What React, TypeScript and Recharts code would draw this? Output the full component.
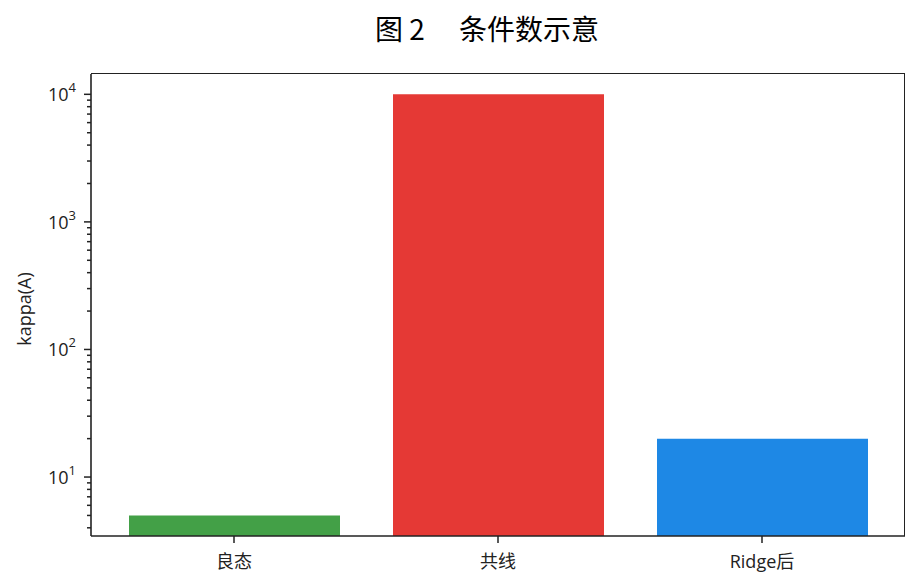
import React from "react";
import { BarChart, Bar, XAxis, YAxis, Cell } from "recharts";

const categories = ["良态", "共线", "Ridge后"];
const kappaValues = [5, 10000, 20];
const barColors = ["#43a047", "#e53935", "#1e88e5"];
const majorTicks = [10, 100, 1000, 10000];
const minorTicks = [
  4, 5, 6, 7, 8, 9,
  20, 30, 40, 50, 60, 70, 80, 90,
  200, 300, 400, 500, 600, 700, 800, 900,
  2000, 3000, 4000, 5000, 6000, 7000, 8000, 9000,
];
const yDomain = [3.45, 14430];

const data = categories.map((name, i) => ({ name, kappa: kappaValues[i] }));
const allTicks = [...minorTicks, ...majorTicks].sort((a, b) => a - b);

const INK = "#222";
const FONT = "'Open Sans', 'Noto Sans CJK SC', sans-serif";

function YTick(props: any) {
  const { x, y, payload } = props;
  const v = payload.value;
  const exp = Math.round(Math.log10(v));
  const major = majorTicks.includes(v);
  return (
    <g>
      <line x1={x} x2={x - (major ? 7 : 4)} y1={y} y2={y} stroke={INK} strokeWidth={1.5} />
      {major ? (
        <text x={x - 15} y={y} dy={7} textAnchor="end" fontSize={18} fill={INK} fontFamily={FONT}>
          10
          <tspan dy={-9} fontSize={13}>
            {exp}
          </tspan>
        </text>
      ) : null}
    </g>
  );
}

function XTick(props: any) {
  const { x, y, payload } = props;
  return (
    <text x={x} y={y + 16} dominantBaseline="central" textAnchor="middle" fontSize={18} fill={INK} fontFamily={FONT}>
      {payload.value}
    </text>
  );
}

export default function App() {
  return (
    <div style={{ position: "absolute", left: 0, top: 0, width: 920, height: 586, background: "#fff" }}>
      <div
        style={{
          position: "absolute",
          left: 487,
          top: 28,
          transform: "translate(-50%, -50%)",
          fontFamily: "'Noto Sans CJK SC', sans-serif",
          fontSize: 28,
          fontWeight: 400,
          color: "#000",
          whiteSpace: "pre",
        }}
      >
        {"图 2　 条件数示意"}
      </div>
      <BarChart
        width={920}
        height={586}
        data={data}
        margin={{ top: 74, right: 15, bottom: 20, left: 31 }}
        barSize={211}
      >
        <XAxis
          dataKey="name"
          type="category"
          padding={{ left: 11, right: 11 }}
          height={30}
          tickSize={7}
          tickMargin={2}
          stroke={INK}
          axisLine={{ stroke: INK, strokeWidth: 1.6 }}
          tickLine={{ stroke: INK, strokeWidth: 1.5 }}
          tick={<XTick />}
          interval={0}
        />
        <YAxis
          type="number"
          scale="log"
          domain={yDomain}
          allowDataOverflow
          ticks={allTicks}
          interval={0}
          width={60}
          tickSize={0}
          tickMargin={0}
          tickLine={false}
          axisLine={{ stroke: INK, strokeWidth: 1.6 }}
          tick={<YTick />}
          label={{
            content: () => (
              <text
                transform="translate(31,309) rotate(-90)"
                textAnchor="middle"
                fontSize={18}
                fill={INK}
                fontFamily={FONT}
              >
                kappa(A)
              </text>
            ),
          }}
        />
        <Bar dataKey="kappa" isAnimationActive={false}>
          {data.map((d, i) => (
            <Cell key={d.name} fill={barColors[i]} />
          ))}
        </Bar>
      </BarChart>
      {/* top and right spines of the plot frame */}
      <div
        style={{
          position: "absolute",
          left: 91,
          top: 73,
          width: 814,
          height: 463,
          borderTop: `1.6px solid ${INK}`,
          borderRight: `1.6px solid ${INK}`,
          pointerEvents: "none",
          boxSizing: "border-box",
        }}
      />
    </div>
  );
}
